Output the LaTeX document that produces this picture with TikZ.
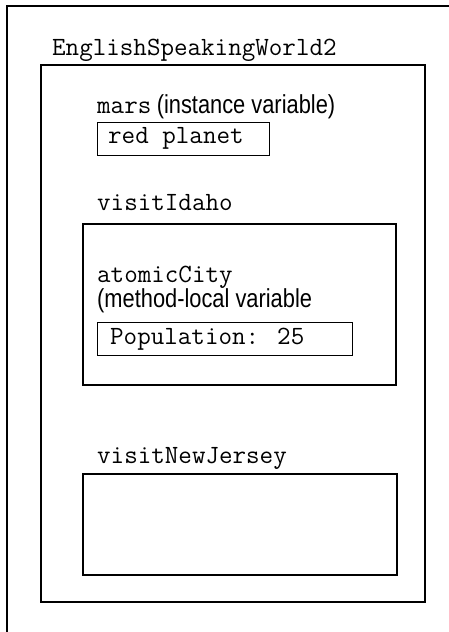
\documentclass[tikz,border=0pt]{standalone}
\usepackage{fontspec}
\setsansfont[FakeStretch=0.84]{Liberation Sans}
\begin{document}
\begin{tikzpicture}[x=1pt,y=-1pt,
  mono/.style={font=\fontsize{26.3}{30}\selectfont\ttfamily, inner sep=0pt, anchor=base west},
  sans/.style={font=\fontsize{26}{30}\selectfont\sffamily, inner sep=0pt, anchor=base west},
  frame/.style={draw, line width=#1, inner sep=0pt, anchor=north west},
]
\useasboundingbox (0,0) rectangle (448,632);
% outer frame (cut off at right and bottom)
\draw[line width=1.3pt] (460,6) -- (7,6) -- (7,645);
\node[mono] (title) at (52,55) {EnglishSpeakingWorld2};
\node[frame=2pt, minimum width=384pt, minimum height=537pt] (world) at (40,64) {};
% instance variable
\node[mono] (mars) at (97,113) {mars};
\node[sans] (marsnote) at ([xshift=5pt]mars.base east) {(instance variable)};
\node[frame=1.3pt, minimum width=172pt, minimum height=33pt] (marsbox) at (97,122) {};
\node[mono] (marsval) at (108,143) {red planet};
% visitIdaho
\node[mono] (idaho) at (97,210) {visitIdaho};
\node[frame=2pt, minimum width=313pt, minimum height=161pt] (idahobox) at (82,223) {};
\node[mono] (city) at (97,282) {atomicCity};
\node[sans] (citynote) at (97,307) {(method-local variable};
\node[frame=1.3pt, minimum width=255pt, minimum height=33pt] (citybox) at (97,322) {};
\node[mono] (cityval) at (110,344) {Population: 25};
% visitNewJersey
\node[mono] (nj) at (97,463) {visitNewJersey};
\node[frame=2pt, minimum width=314pt, minimum height=101pt] (njbox) at (82,473) {};
\end{tikzpicture}
\end{document}
